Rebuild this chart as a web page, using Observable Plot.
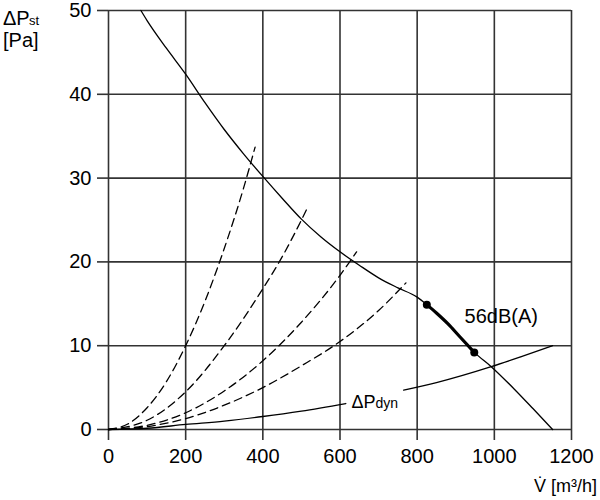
<!DOCTYPE html>
<html><head><meta charset="utf-8">
<script src="https://cdn.jsdelivr.net/npm/d3@7"></script>
<script src="https://cdn.jsdelivr.net/npm/@observablehq/plot@0.6"></script>
<style>body{margin:0;background:#fff}#chart{width:600px;height:500px}</style>
</head><body><div id="chart"></div>
<script>
// Axis ticks
const xTicks = [0, 200, 400, 600, 800, 1000, 1200];
const yTicks = [0, 10, 20, 30, 40, 50];

// Fan curve and 56 dB(A) operating range (thick part)
const fanX = [84, 100, 150, 200, 250, 300, 350, 400, 450, 500, 550, 600, 650, 700, 750, 800, 825, 850, 880, 910, 948, 992, 1050, 1100, 1151];
const fanY = [50, 48.8, 45.5, 42.4, 39.0, 35.8, 32.9, 30.2, 27.6, 25.1, 23.0, 21.2, 19.6, 18.1, 16.9, 15.8, 14.9, 13.9, 12.6, 11.1, 9.2, 7.5, 4.9, 2.5, 0];
const opX = [825, 850, 880, 910, 948];
const opY = [14.9, 13.9, 12.6, 11.1, 9.2];

// System curves (dashed)
const sys1X = [0, 50, 100, 150, 200, 250, 300, 350, 380];
const sys1Y = [0, 0.65, 2.6, 5.7, 10, 15.3, 21.6, 28.8, 33.7];
const sys2X = [0, 100, 200, 300, 400, 450, 500, 516];
const sys2Y = [0, 1.1, 4.5, 10, 16.8, 20.6, 25.0, 26.5];
const sys3X = [0, 100, 200, 300, 400, 500, 600, 643];
const sys3Y = [0, 0.5, 2.0, 4.6, 8.2, 12.8, 18.4, 21.2];
const sys4X = [0, 100, 200, 300, 400, 500, 600, 700, 771];
const sys4Y = [0, 0.35, 1.3, 2.9, 5.0, 7.6, 10.5, 14.2, 17.5];

// Dynamic pressure (broken by its label)
const dynAX = [0, 100, 200, 300, 400, 500, 615];
const dynAY = [0, 0.15, 0.6, 1.0, 1.55, 2.2, 3.1];
const dynBX = [765, 850, 992, 1070, 1151];
const dynBY = [4.7, 5.6, 7.5, 8.7, 10];

// Annotations
const dynLabel = [{x: 630, y: 2.54}];
const opLabel = [{x: 923, y: 12.7, text: "56dB(A)"}];
const opDots = [{x: 825, y: 14.9}, {x: 948, y: 9.2}];

const zip = (xs, ys) => xs.map((x, i) => ({x, y: ys[i]}));
const fan = zip(fanX, fanY), op = zip(opX, opY);
const sys = [zip(sys1X, sys1Y), zip(sys2X, sys2Y), zip(sys3X, sys3Y), zip(sys4X, sys4Y)];
const dynA = zip(dynAX, dynAY), dynB = zip(dynBX, dynBY);

const gridStyle = {stroke: "#333", strokeOpacity: 1, strokeWidth: 1.6};
const font = "'Liberation Sans', Arial, sans-serif";

const plot = Plot.plot({
  width: 600, height: 500,
  marginLeft: 108, marginRight: 29, marginTop: 10, marginBottom: 71,
  style: {fontFamily: font, background: "#fff", color: "#000"},
  x: {domain: [0, 1200]},
  y: {domain: [0, 50]},
  marks: [
    Plot.gridX({ticks: xTicks, ...gridStyle}),
    Plot.gridY({ticks: yTicks, ...gridStyle}),
    Plot.axisX({ticks: xTicks, tickFormat: d => String(d), tickSize: 11, tickPadding: 8, fontSize: 20, label: null, stroke: "#333", strokeWidth: 1.6}),
    Plot.axisY({ticks: yTicks, tickFormat: d => String(d), tickSize: 11, tickPadding: 6, fontSize: 20, label: null, stroke: "#333", strokeWidth: 1.6}),
    ...sys.map(d => Plot.line(d, {x: "x", y: "y", stroke: "#000", strokeWidth: 1.3, strokeDasharray: "8,5", curve: "monotone-x"})),
    Plot.line(dynA, {x: "x", y: "y", stroke: "#000", strokeWidth: 1.3, curve: "monotone-x"}),
    Plot.line(dynB, {x: "x", y: "y", stroke: "#000", strokeWidth: 1.3, curve: "monotone-x"}),
    Plot.line(fan, {x: "x", y: "y", stroke: "#000", strokeWidth: 1.3, curve: "monotone-x"}),
    Plot.line(op, {x: "x", y: "y", stroke: "#000", strokeWidth: 3.2, curve: "monotone-x"}),
    Plot.dot(opDots, {x: "x", y: "y", r: 4, fill: "#000"}),
    Plot.text(opLabel, {x: "x", y: "y", text: "text", textAnchor: "start", lineAnchor: "bottom", fontSize: 20, fill: "#000"}),
    Plot.text(dynLabel, {x: "x", y: "y", text: () => "ΔP", textAnchor: "start", lineAnchor: "bottom", fontSize: 18, fill: "#000"}),
    Plot.text(dynLabel, {x: "x", y: "y", text: () => "dyn", textAnchor: "start", lineAnchor: "bottom", fontSize: 14, dx: 24, dy: 0, fill: "#000"})
  ]
});
document.getElementById("chart").appendChild(plot);

// Axis titles with subscripts
const svg = d3.select(plot);
const addText = (x, y, size, txt, anchor = "start") =>
  svg.append("text").attr("x", x).attr("y", y).attr("text-anchor", anchor)
    .attr("font-family", font).attr("font-size", size).attr("fill", "#000").text(txt);
addText(3, 25, 20, "ΔP");
addText(29, 25, 13, "st");
addText(3, 47, 20, "[Pa]");
addText(597, 492, 18, "V\u0307 [m³/h]", "end");
</script>
</body></html>
